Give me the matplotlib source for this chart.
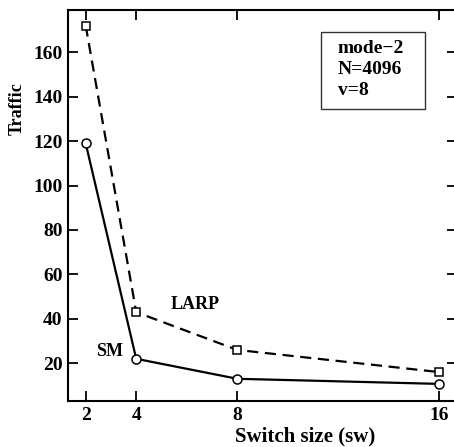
import numpy as np
import matplotlib
matplotlib.use("Agg")
import matplotlib.pyplot as plt
from matplotlib.patches import Rectangle

plt.rcParams['font.family'] = ['Liberation Serif', 'DejaVu Serif']
plt.rcParams['font.weight'] = 'bold'

switch_size = [2, 4, 8, 16]
larp_traffic = [172, 43, 26, 16]
sm_traffic = [119, 22, 13, 10.7]
yticks = [20, 40, 60, 80, 100, 120, 140, 160]

fig = plt.figure(figsize=(4.54, 4.47), dpi=100)
# right spine falls just outside the picture, as in the original
ax = fig.add_axes([68/454, 1 - 401/447, 389/454, 391/447])

ax.plot(switch_size, larp_traffic, color='black', lw=1.6, ls=(0, (5, 3)),
        marker='s', ms=5.5, mfc='white', mec='black', mew=1.1)
ax.plot(switch_size, sm_traffic, color='black', lw=1.6,
        marker='o', ms=6.5, mfc='white', mec='black', mew=1.1)

ax.text(6.35, 46.5, 'LARP', fontsize=13, fontweight='bold', ha='center', va='center')
ax.text(2.95, 25.4, 'SM', fontsize=13, fontweight='bold', ha='center', va='center')

# info box
ax.add_patch(Rectangle((0.651, 0.747), 0.266, 0.197, transform=ax.transAxes,
                       fc='white', ec='#333333', lw=1.0, zorder=3))
ax.text(0.693, 0.922, 'mode\u22122\nN=4096\nv=8', transform=ax.transAxes,
        fontsize=14, fontweight='bold', ha='left', va='top', linespacing=1.3,
        zorder=4)

ax.set_xlim(1.3, 16.7)
ax.set_ylim(3, 179)
ax.set_xticks(switch_size)
ax.set_xticklabels([str(s) for s in switch_size])
ax.set_yticks(yticks)
ax.tick_params(direction='in', length=7, width=1.3, labelsize=14,
               top=True, right=True, pad=4)
for lab in ax.get_xticklabels() + ax.get_yticklabels():
    lab.set_fontweight('bold')
for sp in ax.spines.values():
    sp.set_linewidth(1.5)

ax.set_xlabel('Switch size (sw)', fontsize=15, fontweight='bold')
ax.set_ylabel('Traffic', fontsize=13, fontweight='bold')
ax.xaxis.set_label_coords((305 - 68) / 389, -25 / 391)
ax.yaxis.set_label_coords((26 - 68) / 389, (401 - 108.5) / 391)

fig.savefig('out.png', dpi=100)
